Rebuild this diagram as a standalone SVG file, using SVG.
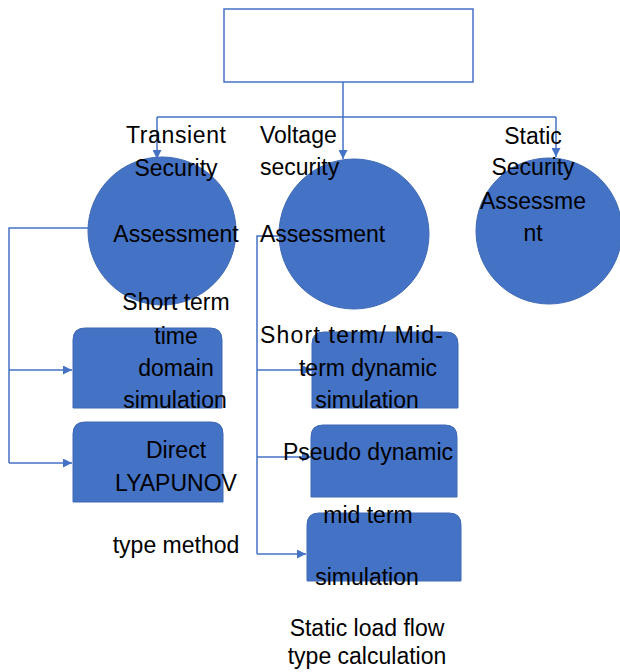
<svg xmlns="http://www.w3.org/2000/svg" width="620" height="672" viewBox="0 0 620 672">
<style>
.c{stroke:#4472C4;stroke-width:1.5;fill:none}
.n{fill:#4472C4;stroke:#3F69B5;stroke-width:1}
.t{font-family:"Liberation Sans",Arial,sans-serif;font-size:23px;fill:#000}
.m{text-anchor:middle}
</style>
<defs>
<marker id="ah" viewBox="0 0 10 10" refX="10" refY="5" markerWidth="9" markerHeight="9" markerUnits="userSpaceOnUse" orient="auto">
<path d="M0,0 L10,5 L0,10 z" fill="#4472C4"/>
</marker>
</defs>
<rect width="620" height="672" fill="#fff"/>
<g id="connectors">
<path class="c" d="M343,82 V159" marker-end="url(#ah)"/>
<path class="c" d="M157,117 H556"/>
<path class="c" d="M157,117 V159" marker-end="url(#ah)"/>
<path class="c" d="M556,117 V157" marker-end="url(#ah)"/>
<path class="c" d="M88,228 H9 V463"/>
<path class="c" d="M9,370 H72" marker-end="url(#ah)"/>
<path class="c" d="M9,463 H72" marker-end="url(#ah)"/>
<path class="c" d="M279,236 H257 V554"/>
<path class="c" d="M257,370 H312" marker-end="url(#ah)"/>
<path class="c" d="M257,457 H311" marker-end="url(#ah)"/>
<path class="c" d="M257,554 H306" marker-end="url(#ah)"/>
</g>
<g id="top">
<rect x="224" y="9" width="249" height="73" fill="#fff" stroke="#4472C4" stroke-width="1.5"/>
</g>
<g id="transient">
<circle class="n" cx="162" cy="231" r="74"/>
<text class="t m" x="176" y="143" textLength="100">Transient</text>
<text class="t m" x="176" y="176">Security</text>
<text class="t m" x="176" y="242">Assessment</text>
</g>
<g id="voltage">
<circle class="n" cx="354" cy="234" r="75"/>
<text class="t" x="260" y="143">Voltage</text>
<text class="t" x="260" y="175">security</text>
<text class="t" x="260" y="242">Assessment</text>
</g>
<g id="static">
<circle class="n" cx="549" cy="231" r="73"/>
<text class="t m" x="533" y="144">Static</text>
<text class="t m" x="533" y="175">Security</text>
<text class="t m" x="533" y="209">Assessme</text>
<text class="t m" x="533" y="241">nt</text>
</g>
<g id="time-domain">
<path class="n" d="M73,408 V340 Q73,328 85,328 H210 Q222,328 222,340 V408 Z"/>
<text class="t m" x="176" y="310">Short term</text>
<text class="t m" x="176" y="344">time</text>
<text class="t m" x="176" y="376">domain</text>
<text class="t m" x="175" y="408">simulation</text>
</g>
<g id="direct">
<path class="n" d="M73,502 V434 Q73,422 85,422 H211 Q223,422 223,434 V502 Z"/>
<text class="t m" x="176" y="458">Direct</text>
<text class="t m" x="176" y="491">LYAPUNOV</text>
<text class="t m" x="176" y="553">type method</text>
</g>
<g id="short-mid">
<path class="n" d="M312,408 V344 Q312,332 324,332 H446 Q458,332 458,344 V408 Z"/>
<text class="t" x="260" y="343" textLength="183">Short term/ Mid-</text>
<text class="t m" x="368" y="376">term dynamic</text>
<text class="t m" x="367" y="408">simulation</text>
</g>
<g id="pseudo">
<path class="n" d="M311,497 V437 Q311,425 323,425 H445 Q457,425 457,437 V497 Z"/>
<text class="t m" x="368" y="460">Pseudo dynamic</text>
</g>
<g id="mid-term">
<path class="n" d="M307,581 V525 Q307,513 319,513 H449 Q461,513 461,525 V581 Z"/>
<text class="t m" x="368" y="523">mid term</text>
<text class="t m" x="367" y="585">simulation</text>
<text class="t m" x="367" y="636">Static load flow</text>
<text class="t m" x="367" y="664">type calculation</text>
</g>
</svg>
